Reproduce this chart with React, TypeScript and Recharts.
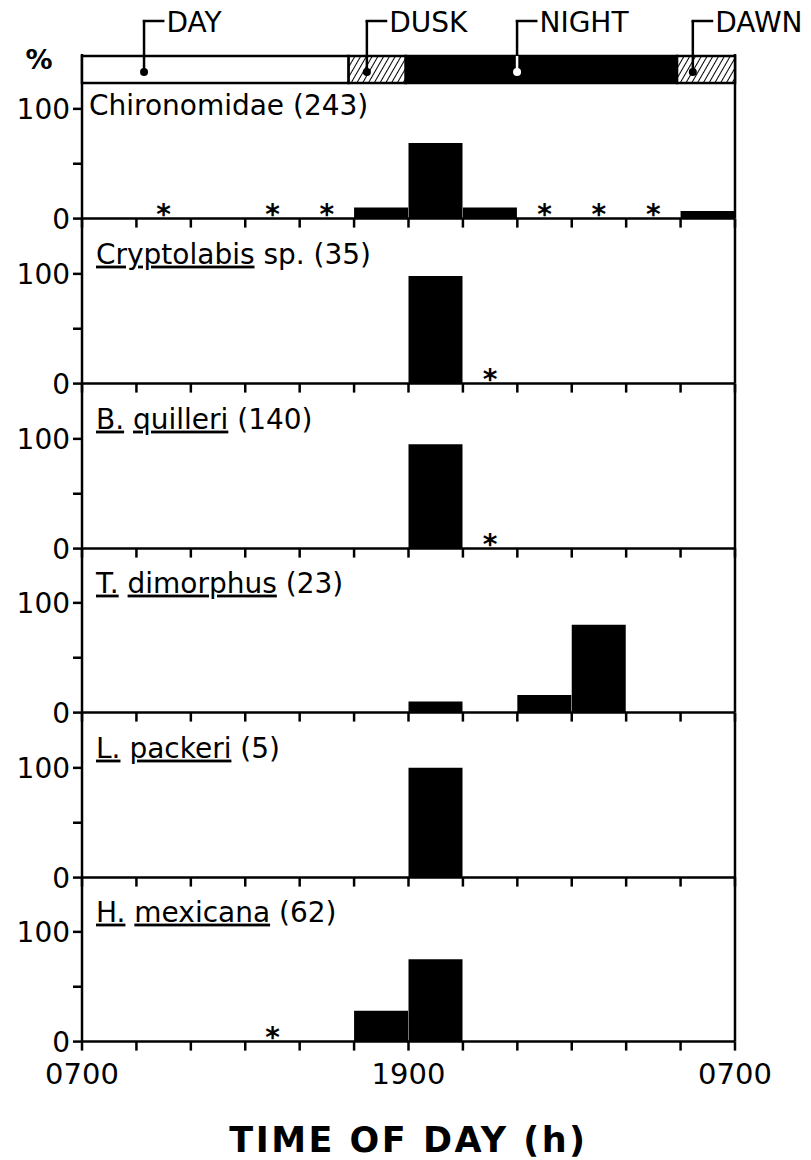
import React from 'react';
import {
  ComposedChart,
  Bar,
  Scatter,
  XAxis,
  YAxis,
  ReferenceArea,
  ReferenceLine,
  ReferenceDot,
} from 'recharts';

// 2-h sampling bins, starting at 0700
const BINS = ['0700', '0900', '1100', '1300', '1500', '1700', '1900', '2100', '2300', '0100', '0300', '0500'];
const HOUR_TICKS = [0, 2, 4, 6, 8, 10, 12, 14, 16, 18, 20, 22, 24];
const LABELLED_HOURS = [0, 12, 24];
const HOUR_LABELS = ['0700', '1900', '0700'];
const PCT_TICKS = [0, 50, 100];
const PCT_LABELS = ['0', '', '100'];

// % of catch per bin
const CHIRONOMIDAE = [0, 0, 0, 0, 0, 10, 69, 10, 0, 0, 0, 7];
const CRYPTOLABIS = [0, 0, 0, 0, 0, 0, 98, 0, 0, 0, 0, 0];
const B_QUILLERI = [0, 0, 0, 0, 0, 0, 95, 0, 0, 0, 0, 0];
const T_DIMORPHUS = [0, 0, 0, 0, 0, 0, 10, 0, 16, 80, 0, 0];
const L_PACKERI = [0, 0, 0, 0, 0, 0, 100, 0, 0, 0, 0, 0];
const H_MEXICANA = [0, 0, 0, 0, 0, 28, 75, 0, 0, 0, 0, 0];

// bins marked with an asterisk
const CHIRONOMIDAE_STARS = [1, 3, 4, 8, 9, 10];
const CRYPTOLABIS_STARS = [7];
const B_QUILLERI_STARS = [7];
const T_DIMORPHUS_STARS: number[] = [];
const L_PACKERI_STARS: number[] = [];
const H_MEXICANA_STARS = [3];

// light phases (hours after 0700)
const PHASES = ['DAY', 'DUSK', 'NIGHT', 'DAWN'];
const PHASE_START = [0, 9.8, 11.9, 21.87];
const PHASE_END = [9.8, 11.9, 21.87, 24];
const PHASE_MARK = [2.28, 10.47, 15.99, 22.45];

type Part = { t: string; u?: boolean };
const TITLES: Part[][] = [
  [{ t: 'Chironomidae (243)' }],
  [{ t: 'Cryptolabis', u: true }, { t: ' sp. (35)' }],
  [{ t: 'B.', u: true }, { t: ' ' }, { t: 'quilleri', u: true }, { t: ' (140)' }],
  [{ t: 'T.', u: true }, { t: ' ' }, { t: 'dimorphus', u: true }, { t: ' (23)' }],
  [{ t: 'L.', u: true }, { t: ' ' }, { t: 'packeri', u: true }, { t: ' (5)' }],
  [{ t: 'H.', u: true }, { t: ' ' }, { t: 'mexicana', u: true }, { t: ' (62)' }],
];

const SERIES = [CHIRONOMIDAE, CRYPTOLABIS, B_QUILLERI, T_DIMORPHUS, L_PACKERI, H_MEXICANA];
const STARS = [CHIRONOMIDAE_STARS, CRYPTOLABIS_STARS, B_QUILLERI_STARS, T_DIMORPHUS_STARS, L_PACKERI_STARS, H_MEXICANA_STARS];

// layout
const W = 811;
const H = 1160;
const PLOT_L = 82;
const PLOT_R = 735;
const FIRST_ZERO = 219;
const PANEL_H = 164.6;
const AXIS_H = 24; // panels overlap; the next panel's svg is transparent
const FONT = '"DejaVu Sans", sans-serif';
const LINE = { stroke: '#000', strokeWidth: 2.5 };
const BAND_TOP = 56;
const BAND_BOTTOM = 83;
const LEADER_Y = 21;
const DOT_Y = 72;

// bin i covers hours 2i..2i+2 after 0700; bars sit on the bin centre
const binCentre = (i: number) => 2 * i + 1;

/* eslint-disable @typescript-eslint/no-explicit-any */
function StarShape(props: any) {
  if (!Number.isFinite(props.cx) || !Number.isFinite(props.cy)) return <g />;
  return (
    <text x={props.cx} y={props.cy + 5} textAnchor="middle" fontSize={28} fontWeight="bold" fontFamily={FONT} fill="#000">
      *
    </text>
  );
}

function phaseLabel(text: string) {
  return (p: any) => {
    const vb = p.viewBox || {};
    return (
      <text x={vb.x + 2} y={vb.y + 11} fontSize={28} fontFamily={FONT} fill="#000">
        {text}
      </text>
    );
  };
}
/* eslint-enable @typescript-eslint/no-explicit-any */

function PhaseBand() {
  const bandData = PHASES.map((p, i) => ({ name: p, start: PHASE_START[i] }));
  return (
    <ComposedChart
      width={W}
      height={90}
      data={bandData}
      margin={{ top: 0, right: W - PLOT_R, bottom: 0, left: PLOT_L }}
      style={{ position: 'absolute', left: 0, top: 0 }}
    >
      <defs>
        <pattern id="hatch" patternUnits="userSpaceOnUse" width={5} height={5} patternTransform="rotate(30)">
          <rect width={5} height={5} fill="#fff" />
          <line x1={0} y1={0} x2={0} y2={5} stroke="#000" strokeWidth={2} />
        </pattern>
      </defs>
      <XAxis type="number" dataKey="start" domain={[0, 24]} hide allowDataOverflow />
      <YAxis type="number" domain={[0, 90]} reversed hide allowDataOverflow />
      {PHASES.map((p, i) => (
        <ReferenceArea
          key={p}
          x1={PHASE_START[i]}
          x2={PHASE_END[i]}
          y1={BAND_TOP}
          y2={BAND_BOTTOM}
          fill={p === 'NIGHT' ? '#000' : p === 'DAY' ? '#fff' : 'url(#hatch)'}
          fillOpacity={1}
          stroke="#000"
          strokeWidth={2.5}
          ifOverflow="visible"
        />
      ))}
      {PHASES.map((p, i) => (
        <ReferenceLine
          key={`up-${p}`}
          segment={[{ x: PHASE_MARK[i], y: LEADER_Y }, { x: PHASE_MARK[i], y: BAND_TOP }]}
          stroke="#000"
          strokeWidth={2.5}
          ifOverflow="visible"
        />
      ))}
      {PHASES.map((p, i) => (
        <ReferenceLine
          key={`in-${p}`}
          segment={[{ x: PHASE_MARK[i], y: BAND_TOP }, { x: PHASE_MARK[i], y: DOT_Y }]}
          stroke={p === 'NIGHT' ? '#fff' : '#000'}
          strokeWidth={2.5}
          ifOverflow="visible"
        />
      ))}
      {PHASES.map((p, i) => (
        <ReferenceLine
          key={`hz-${p}`}
          segment={[{ x: PHASE_MARK[i] - 0.05, y: LEADER_Y }, { x: PHASE_MARK[i] + 0.75, y: LEADER_Y }]}
          stroke="#000"
          strokeWidth={2.5}
          ifOverflow="visible"
        />
      ))}
      {PHASES.map((p, i) => (
        <ReferenceDot
          key={`dot-${p}`}
          x={PHASE_MARK[i]}
          y={DOT_Y}
          r={4}
          fill={p === 'NIGHT' ? '#fff' : '#000'}
          stroke="none"
          ifOverflow="visible"
        />
      ))}
      {PHASES.map((p, i) => (
        <ReferenceDot
          key={`lbl-${p}`}
          x={PHASE_MARK[i] + 0.75}
          y={LEADER_Y}
          r={0}
          fill="none"
          stroke="none"
          ifOverflow="visible"
          label={{ content: phaseLabel(p) }}
        />
      ))}
      <text x={39} y={69} textAnchor="middle" fontSize={27} fontWeight="bold" fontFamily={FONT} fill="#000">
        %
      </text>
    </ComposedChart>
  );
}

function Panel({ idx }: { idx: number }) {
  const last = idx === SERIES.length - 1;
  const zero = FIRST_ZERO + idx * PANEL_H;
  const top = zero - PANEL_H;
  const axisH = last ? H - zero : AXIS_H;
  const rows = BINS.map((b, i) => ({ bin: b, h: binCentre(i), pct: SERIES[idx][i] }));
  const starPts = STARS[idx].map((i) => ({ bin: BINS[i], h: binCentre(i), y: 0 }));
  const titleY = idx === 0 ? 115 - top : PANEL_H - 120;
  const titleX = idx === 0 ? 89 : 96;
  return (
    <ComposedChart
      width={W}
      height={PANEL_H + axisH}
      data={rows}
      margin={{ top: 0, right: 0, bottom: 0, left: 0 }}
      barCategoryGap={0}
      barGap={0}
      style={{ position: 'absolute', left: 0, top }}
    >
      <XAxis
        dataKey="h"
        type="number"
        domain={[0, 24]}
        ticks={HOUR_TICKS}
        interval={0}
        height={axisH}
        tickSize={9}
        tickMargin={13}
        axisLine={LINE}
        tickLine={LINE}
        tick={{ fill: '#000', fontSize: 29, fontFamily: FONT }}
        tickFormatter={(v: number) => {
          if (!last) return '';
          const k = LABELLED_HOURS.indexOf(v);
          return k >= 0 ? HOUR_LABELS[k] : '';
        }}
      />
      <YAxis
        yAxisId="l"
        type="number"
        domain={[0, 150]}
        ticks={PCT_TICKS}
        interval={0}
        width={PLOT_L}
        tickSize={9}
        tickMargin={3}
        axisLine={LINE}
        tickLine={LINE}
        tick={{ fill: '#000', fontSize: 28, fontFamily: FONT }}
        tickFormatter={(v: number) => PCT_LABELS[PCT_TICKS.indexOf(v)] ?? ''}
      />
      <YAxis
        yAxisId="r"
        orientation="right"
        type="number"
        domain={[0, 150]}
        width={W - PLOT_R}
        tick={false}
        tickLine={false}
        axisLine={LINE}
      />
      <Bar yAxisId="l" dataKey="pct" fill="#000" isAnimationActive={false} />
      <Scatter yAxisId="l" data={starPts} dataKey="y" shape={StarShape} isAnimationActive={false} />
      <text x={titleX} y={titleY} fontSize={28} fontFamily={FONT} fill="#000">
        {TITLES[idx].map((part, k) => (
          <tspan key={k} textDecoration={part.u ? 'underline' : undefined} style={{ whiteSpace: 'pre' }}>
            {part.t}
          </tspan>
        ))}
      </text>
      {last && (
        <text
          x={(PLOT_L + PLOT_R) / 2}
          y={1152 - top}
          textAnchor="middle"
          fontSize={35}
          fontWeight="bold"
          letterSpacing={2.5}
          fontFamily={FONT}
          fill="#000"
        >
          TIME OF DAY (h)
        </text>
      )}
    </ComposedChart>
  );
}

export default function App() {
  return (
    <div style={{ position: 'absolute', left: 0, top: 0, width: W, height: H, background: '#fff' }}>
      {SERIES.map((_, i) => (
        <Panel key={i} idx={i} />
      ))}
      <PhaseBand />
    </div>
  );
}
